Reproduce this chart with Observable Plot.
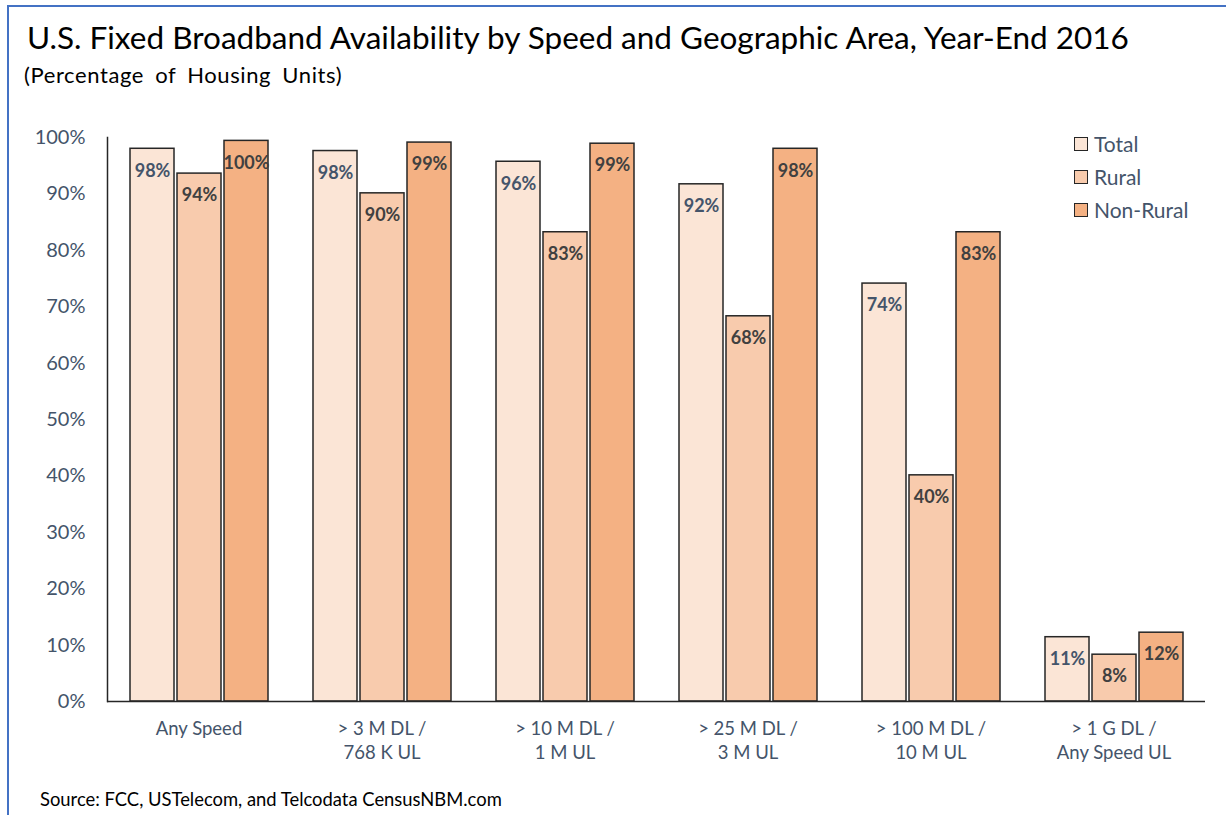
<!DOCTYPE html>
<html>
<head>
<meta charset="utf-8">
<script src="https://cdn.jsdelivr.net/npm/d3@7"></script>
<script src="https://cdn.jsdelivr.net/npm/@observablehq/plot@0.6"></script>
<style>
  html, body { margin: 0; padding: 0; background: #fff; }
  #wrap { position: relative; width: 1226px; height: 815px; overflow: hidden; font-family: Lato, "Open Sans", sans-serif; }
  #border { position: absolute; left: 7px; top: 5px; right: -5px; bottom: -5px; border-left: 2px solid #4472C4; border-top: 2px solid #4472C4; }
  #title { position: absolute; left: 27px; top: 19px; font-size: 31.5px; line-height: 36px; color: #000; white-space: nowrap; }
  #subtitle { position: absolute; left: 24px; top: 63px; font-size: 22px; line-height: 24px; letter-spacing: 0.6px; word-spacing: 5px; color: #000; white-space: nowrap; }
  #chart { position: absolute; left: 0; top: 100px; }
  #legend { position: absolute; left: 1074px; top: 127px; }
  .item { display: flex; align-items: center; height: 33px; font-size: 21px; color: #44546A; }
  .sw { width: 12px; height: 12px; border: 1.5px solid #262626; margin-right: 6px; }
  #source { position: absolute; left: 40px; top: 788px; font-size: 18.4px; line-height: 22px; color: #000; white-space: nowrap; }
</style>
</head>
<body>
<div id="wrap">
  <div id="border"></div>
  <div id="title"></div>
  <div id="subtitle"></div>
  <div id="chart"></div>
  <div id="legend"></div>
  <div id="source"></div>
</div>
<script>
const titleText = "U.S. Fixed Broadband Availability by Speed and Geographic Area, Year-End 2016";
const subtitleText = "(Percentage of Housing Units)";
const sourceText = "Source: FCC, USTelecom, and Telcodata CensusNBM.com";

const categories = [
  "Any Speed",
  "> 3 M DL /\n768 K UL",
  "> 10 M DL /\n1 M UL",
  "> 25 M DL /\n3 M UL",
  "> 100 M DL /\n10 M UL",
  "> 1 G DL /\nAny Speed UL"
];
const series = ["Total", "Rural", "Non-Rural"];
const seriesColors = ["#FBE5D6", "#F8CBAD", "#F4B183"];

const totalValues    = [98.0, 97.6, 95.7, 91.7, 74.1, 11.4];
const ruralValues    = [93.6, 90.1, 83.2, 68.3, 40.1, 8.3];
const nonRuralValues = [99.4, 99.1, 98.9, 98.0, 83.2, 12.2];

const totalLabels    = ["98%", "98%", "96%", "92%", "74%", "11%"];
const ruralLabels    = ["94%", "90%", "83%", "68%", "40%", "8%"];
const nonRuralLabels = ["100%", "99%", "99%", "98%", "83%", "12%"];

const yTicks = [0, 10, 20, 30, 40, 50, 60, 70, 80, 90, 100];

const data = categories.flatMap((c, i) => [
  {category: c, series: "Total", value: totalValues[i], label: totalLabels[i]},
  {category: c, series: "Rural", value: ruralValues[i], label: ruralLabels[i]},
  {category: c, series: "Non-Rural", value: nonRuralValues[i], label: nonRuralLabels[i]}
]);

document.getElementById("title").textContent = titleText;
document.getElementById("subtitle").textContent = subtitleText;
document.getElementById("source").textContent = sourceText;

const legend = document.getElementById("legend");
series.forEach((s, i) => {
  const item = document.createElement("div");
  item.className = "item";
  const sw = document.createElement("div");
  sw.className = "sw";
  sw.style.background = seriesColors[i];
  const t = document.createElement("span");
  t.textContent = s;
  item.appendChild(sw);
  item.appendChild(t);
  legend.appendChild(item);
});

const chart = Plot.plot({
  width: 1226,
  height: 680,
  marginTop: 37,
  marginBottom: 79,
  marginLeft: 105,
  marginRight: 19,
  style: {fontFamily: "Lato, 'Open Sans', sans-serif", background: "transparent"},
  fx: {domain: categories, padding: 0, label: null},
  x: {domain: series, paddingInner: 0.07, paddingOuter: 0.47, axis: null},
  y: {domain: [0, 100], label: null},
  color: {domain: series, range: seriesColors},
  marks: [
    Plot.barY(data, {fx: "category", x: "series", y: "value", fill: "series", stroke: "#262626", strokeWidth: 1.5}),
    Plot.text(data.filter(d => d.series === "Total"), {fx: "category", x: "series", y: "value", text: "label", dy: 22, fill: "#44546A", fontWeight: "bold", fontSize: 18}),
    Plot.text(data.filter(d => d.series !== "Total"), {fx: "category", x: "series", y: "value", text: "label", dy: 22, fill: "#404040", fontWeight: "bold", fontSize: 18}),
    Plot.ruleY([0], {stroke: "#262626", strokeWidth: 1.5}),
    Plot.axisY({ticks: yTicks, tickFormat: d => d + "%", tickSize: 0, tickPadding: 22, fontSize: 20, color: "#44546A", label: null}),
    Plot.axisFx({anchor: "bottom", tickSize: 0, tickPadding: 17, fontSize: 18.5, lineHeight: 1.28, color: "#44546A", label: null}),
    Plot.frame({anchor: "left", facetAnchor: "left", stroke: "#262626", strokeWidth: 1.5})
  ]
});
document.getElementById("chart").appendChild(chart);
</script>
</body>
</html>
